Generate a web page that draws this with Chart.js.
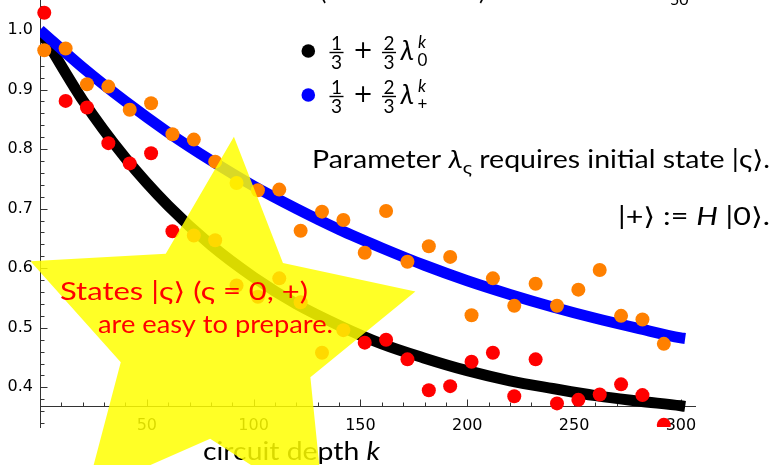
<!DOCTYPE html>
<html><head><meta charset="utf-8">
<script src="https://cdn.jsdelivr.net/npm/chart.js@4.4.1/dist/chart.umd.min.js"></script>
<style>html,body{margin:0;padding:0;background:#fff;} canvas{display:block;}</style>
</head><body>
<canvas id="c" width="774" height="465" style="width:774px;height:465px"></canvas>
<script>
// ---- data ----
const depthK = [2,12,22,32,42,52,62,72,82,92,102,112,122,132,142,152,162,172,182,192,202,212,222,232,242,252,262,272,282,292];
const redValues = [1.029,0.881,0.870,0.810,0.776,0.793,0.662,0.655,0.647,0.571,0.552,0.583,0.543,0.458,0.496,0.475,0.480,0.447,0.395,0.402,0.443,0.458,0.385,0.447,0.373,0.379,0.388,0.405,0.387,0.337];
const orangeValues = [0.966,0.969,0.909,0.905,0.866,0.877,0.825,0.816,0.779,0.743,0.731,0.732,0.663,0.695,0.681,0.626,0.696,0.611,0.637,0.619,0.521,0.583,0.537,0.574,0.537,0.564,0.597,0.520,0.514,0.473];
const curveK = [0,20,40,60,80,100,120,140,160,180,200,220,240,260,280,300,302];
const blackCurve = [1.000,0.882,0.785,0.705,0.639,0.585,0.540,0.504,0.473,0.449,0.428,0.411,0.398,0.386,0.377,0.369,0.368];
const blueCurve = [1.000,0.937,0.880,0.828,0.781,0.738,0.700,0.665,0.634,0.605,0.579,0.556,0.535,0.516,0.499,0.483,0.482];
const xTickLabels = [50,100,150,200,250,300];
const yTickLabels = [0.4,0.5,0.6,0.7,0.8,0.9,1.0];
const xAxisCrossing = 0.3686;

const FONT = 'Lato, "DejaVu Sans", sans-serif';
const TICKFONT = '"DejaVu Sans", sans-serif';
const axisColor = '#333';

function pts(xs, ys){ return xs.map((x,i)=>({x:x, y:ys[i]})); }

function runsWidth(ctx, runs, size){
  let w=0;
  for(const r of runs){ ctx.font = `${r.st||''} ${size*(r.s||1)}px ${FONT}`; w+=ctx.measureText(r.t).width; }
  return w;
}
function drawRuns(ctx, runs, x, y, size, color){
  ctx.fillStyle=color; ctx.textAlign='left'; ctx.textBaseline='alphabetic';
  for(const r of runs){
    ctx.font = `${r.st||''} ${size*(r.s||1)}px ${FONT}`;
    ctx.fillText(r.t, x, y+(r.dy||0)*size);
    x+=ctx.measureText(r.t).width;
  }
}
// draws text at a given size, squeezed horizontally to span x0..x1
function fitRuns(ctx, runs, x0, x1, y, color, size){
  const w = runsWidth(ctx, runs, size);
  ctx.save(); ctx.translate(x0, y); ctx.scale((x1-x0)/w, 1);
  drawRuns(ctx, runs, 0, 0, size, color);
  ctx.restore();
}
function frac(ctx, num, den, cx, barY, size){
  ctx.font = `${size}px ${FONT}`; ctx.textAlign='center'; ctx.textBaseline='alphabetic';
  ctx.fillStyle='#000';
  ctx.fillText(num, cx, barY-3);
  ctx.fillText(den, cx, barY+2.5+size*0.72);
  const w = ctx.measureText(num).width+3;
  ctx.fillRect(cx-w/2, barY-0.7, w, 1.4);
}
function legendEntry(ctx, cy, color, sub){
  ctx.fillStyle=color; ctx.beginPath(); ctx.arc(308.3, cy, 6.8, 0, Math.PI*2); ctx.fill();
  frac(ctx,'1','3',336.5,cy+1.5,19);
  ctx.fillStyle='#000'; ctx.font=`24px ${TICKFONT}`; ctx.textAlign='center'; ctx.textBaseline='middle';
  ctx.fillText('+', 363, cy+1);
  frac(ctx,'2','3',389,cy+1.5,19);
  ctx.textAlign='left'; ctx.textBaseline='alphabetic';
  ctx.font=`italic 27px ${FONT}`; ctx.fillText('λ', 400.5, cy+9);
  ctx.font=`italic 17px ${FONT}`; ctx.fillText('k', 418, cy-3);
  ctx.font=`17px ${FONT}`; ctx.fillText(sub, 417.5, cy+15);
}

const decor = {
  id:'decor',
  beforeDatasetsDraw(chart){
    const ctx=chart.ctx, xs=chart.scales.x, ys=chart.scales.y, ca=chart.chartArea;
    ctx.save(); ctx.strokeStyle=axisColor; ctx.lineWidth=1;
    const axX = Math.round(ca.left)+0.5;
    const axY = Math.round(ys.getPixelForValue(xAxisCrossing))+0.5;
    ctx.beginPath();
    for(let i=17;i<=52;i++){
      const y=Math.round(ys.getPixelForValue(i*0.02))+0.5;
      ctx.moveTo(axX,y); ctx.lineTo(axX+(i%5===0?7:4),y);
    }
    for(let k=10;k<=300;k+=10){
      const x=Math.round(xs.getPixelForValue(k))+0.5;
      ctx.moveTo(x,axY); ctx.lineTo(x,axY-(k%50===0?7:4));
    }
    ctx.stroke(); ctx.restore();
  },
  afterDraw(chart){
    const ctx=chart.ctx;
    ctx.save();
    // cut-off title remnants at the top edge
    ctx.fillStyle='#000'; ctx.font=`24px ${FONT}`; ctx.textAlign='left'; ctx.textBaseline='alphabetic';
    ctx.fillText('(', 320, 0);
    ctx.fillText(')', 479, 0);
    ctx.font=`16px ${FONT}`; ctx.fillText('50', 670, 5);
    // legend
    legendEntry(ctx, 51, '#000000', '0');
    legendEntry(ctx, 95, '#0000ff', '+');
    // annotations
    fitRuns(ctx, [{t:'Parameter '},{t:'λ',st:'italic'},{t:'ς',s:0.7,dy:0.25},{t:' requires initial state |ς⟩.'}], 312, 770, 168, '#000', 24.5);
    fitRuns(ctx, [{t:'|+⟩ := '},{t:'H',st:'italic'},{t:' |0⟩.'}], 618, 770, 225, '#000', 24.5);
    fitRuns(ctx, [{t:'circuit depth '},{t:'k',st:'italic'}], 203, 380, 460, '#000', 24.5);
    // star
    const cx=218, cy=339, R=203, r=100, rot=4.5*Math.PI/180;
    ctx.beginPath();
    for(let i=0;i<10;i++){
      const a=rot+i*Math.PI/5, rad=(i%2===0)?R:r;
      const x=cx+rad*Math.sin(a), y=cy-rad*Math.cos(a);
      if(i===0) ctx.moveTo(x,y); else ctx.lineTo(x,y);
    }
    ctx.closePath();
    ctx.fillStyle='rgba(255,255,0,0.85)'; ctx.fill();
    fitRuns(ctx, [{t:'States |ς⟩ (ς = 0, +)'}], 60, 308, 300, '#ff0000', 24.5);
    fitRuns(ctx, [{t:'are easy to prepare.'}], 98, 333, 333, '#ff0000', 24.5);
    ctx.restore();
  }
};

new Chart(document.getElementById('c'), {
  type:'scatter',
  data:{ datasets:[
    {label:'black', type:'line', data:pts(curveK, blackCurve), borderColor:'#000000', borderWidth:11, pointRadius:0, fill:false, cubicInterpolationMode:'monotone', borderCapStyle:'butt', clip:0, order:4},
    {label:'blue', type:'line', data:pts(curveK, blueCurve), borderColor:'#0000ff', borderWidth:11, pointRadius:0, fill:false, cubicInterpolationMode:'monotone', borderCapStyle:'butt', clip:0, order:3},
    {label:'orange', data:pts(depthK, orangeValues), backgroundColor:'#ff8000', borderWidth:0, pointRadius:7, clip:{left:10,top:10,right:10,bottom:0}, order:2},
    {label:'red', data:pts(depthK, redValues), backgroundColor:'#ff0000', borderWidth:0, pointRadius:7, clip:{left:10,top:10,right:10,bottom:0}, order:1}
  ]},
  options:{
    responsive:false, animation:false, devicePixelRatio:1,
    layout:{autoPadding:false, padding:{left:0,right:79,top:0,bottom:38}},
    plugins:{legend:{display:false}, tooltip:{enabled:false}},
    scales:{
      x:{type:'linear', position:{y:xAxisCrossing}, min:0, max:306.6,
        afterFit:s=>{s.paddingLeft=0; s.paddingRight=0;},
        afterBuildTicks:s=>{s.ticks=xTickLabels.map(v=>({value:v}));},
        grid:{display:false, drawTicks:false},
        border:{display:true, color:axisColor, width:1},
        ticks:{padding:10, color:'#000', font:{family:TICKFONT,size:16}, maxRotation:0, autoSkip:false, callback:v=>String(v)}},
      y:{type:'linear', position:'left', min:0.3334, max:1.0504,
        afterFit:s=>{s.width=40; s.paddingTop=0; s.paddingBottom=0;},
        afterBuildTicks:s=>{s.ticks=yTickLabels.map(v=>({value:v}));},
        grid:{display:false, drawTicks:false},
        border:{display:true, color:axisColor, width:1},
        ticks:{padding:7, color:'#000', font:{family:TICKFONT,size:16}, autoSkip:false, callback:v=>v.toFixed(1)}}
    }
  },
  plugins:[decor]
});
</script>
</body></html>
